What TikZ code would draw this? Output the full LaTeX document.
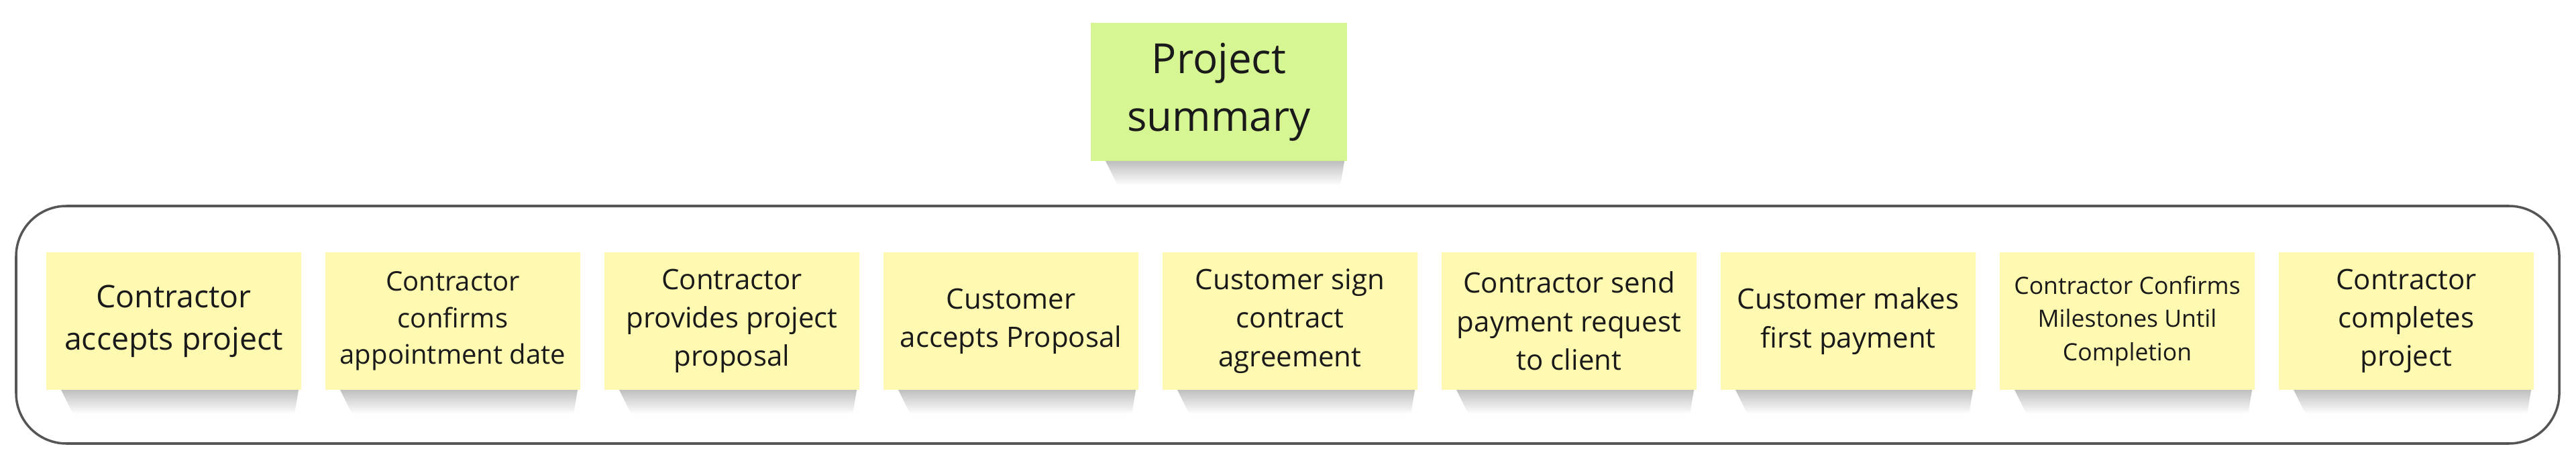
\documentclass[tikz,border=0pt]{standalone}
\usepackage{fontspec}
\setmainfont{Open Sans}
\usetikzlibrary{positioning, calc, fadings}
\definecolor{stickyyellow}{HTML}{FFF9B1}
\definecolor{stickygreen}{HTML}{D5F692}
\definecolor{framegray}{HTML}{555555}
\definecolor{inkblack}{HTML}{1A1A1A}
\tikzfading[name=shadow fade,top color=transparent!30,bottom color=transparent!100]
\tikzset{sticky note/.style={fill=stickyyellow,minimum width=3.8cm,minimum height=2.05cm,inner sep=1mm,outer sep=0pt,align=center,text=inkblack,font=\fontsize{11.95}{16.3}\selectfont}}
\tikzset{title note/.style={sticky note,fill=stickygreen,minimum width=3.82cm,minimum height=2.06cm,font=\fontsize{17.6}{24.5}\selectfont}}
\tikzset{frame box/.style={draw=framegray,line width=1pt,rounded corners=0.75cm}}
\tikzset{note shadow/.style={fill=black!80,fill opacity=0.45,path fading=shadow fade}}

\begin{document}
\begin{tikzpicture}[node distance=0.36cm]
    \useasboundingbox (0,0) rectangle (38.4,-6.93);
    \draw[frame box] (0.24,-3.07) rectangle (38.15,-6.61);

    \node[title note](summary) at (18.17,-1.37){Project\\summary};

    \node[sticky note,font=\fontsize{13.2}{17.9}\selectfont](accepts) at (2.59,-4.785){Contractor\\accepts project};
    \node[sticky note,font=\fontsize{11.4}{15.5}\selectfont](confirms)[right=of accepts]{Contractor\\confirms\\appointment date};
    \node[sticky note](proposal)[right=of confirms]{Contractor\\provides project\\proposal};
    \node[sticky note](approval)[right=of proposal]{Customer\\accepts Proposal};
    \node[sticky note](contract)[right=of approval]{Customer sign\\contract\\agreement};
    \node[sticky note](request)[right=of contract]{Contractor send\\payment request\\to client};
    \node[sticky note](payment)[right=of request]{Customer makes\\first payment};
    \node[sticky note,font=\fontsize{10.1}{14.1}\selectfont](milestones)[right=of payment]{Contractor Confirms\\Milestones Until\\Completion};
    \node[sticky note](completes)[right=of milestones]{Contractor\\completes\\project};

    \foreach \n in {summary,accepts,confirms,proposal,approval,contract,request,payment,milestones,completes}
        \fill[note shadow] ($(\n.south west)+(0.22,0)$) -- ($(\n.south east)+(-0.04,0)$) -- ($(\n.south east)+(-0.1,-0.36)$) -- ($(\n.south west)+(0.4,-0.36)$) -- cycle;
\end{tikzpicture}
\end{document}
